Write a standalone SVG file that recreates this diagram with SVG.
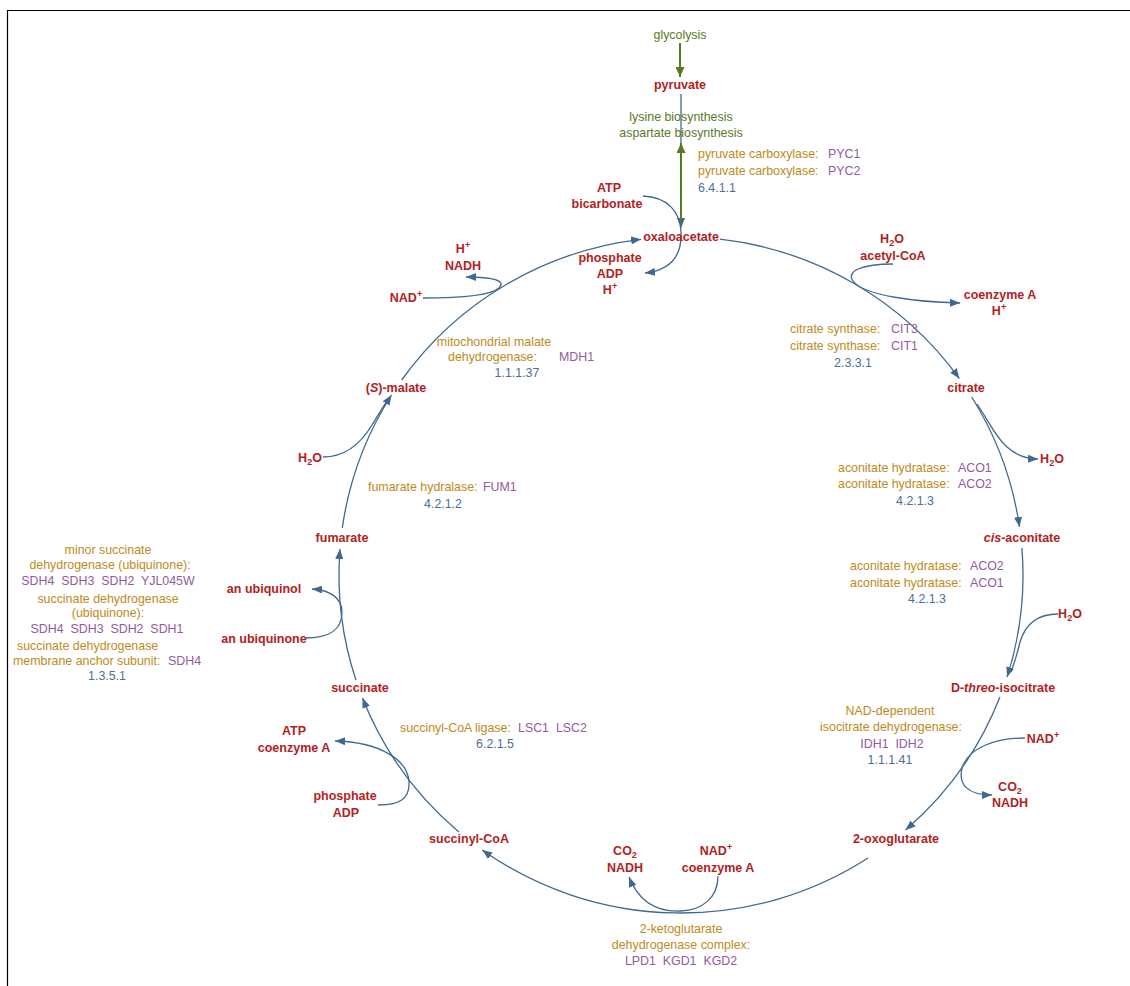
<svg xmlns="http://www.w3.org/2000/svg" width="1130" height="986" viewBox="0 0 1130 986">
<defs>
<style>
text{font-family:"Liberation Sans",Arial,sans-serif;font-size:12.4px;white-space:pre}
.n{font-weight:bold;font-size:12.5px;fill:#b22222;text-anchor:middle}
.e{fill:#bf8a20}
.g{fill:#935aa0}
.ec{fill:#4d6f93}
.m{text-anchor:middle}
.pw{fill:#587a1f;text-anchor:middle}
.c{fill:none;stroke:#40698f;stroke-width:1.3}
.cg{fill:none;stroke:#587a1f;stroke-width:2}
.sup{font-size:9px}
.sub{font-size:9px}
</style>
<marker id="ab" markerUnits="userSpaceOnUse" markerWidth="11" markerHeight="8" refX="10" refY="4" orient="auto"><path d="M0,0 L10,4 L0,8 z" fill="#40698f"/></marker>
<marker id="ag" markerUnits="userSpaceOnUse" markerWidth="11" markerHeight="9" refX="10" refY="4.5" orient="auto"><path d="M0,0 L10,4.5 L0,9 z" fill="#587a1f"/></marker>
</defs>
<rect width="1130" height="986" fill="#fff"/>
<path d="M7.5,986 V10.5 H1130" fill="none" stroke="#000" stroke-width="1.2"/>

<g id="connectors">
<path class="c" marker-end="url(#ab)" d="M720,239.2 A342,338 0 0 1 959.3,378.5"/>
<path class="c" marker-end="url(#ab)" d="M971.7,397 A342,338 0 0 1 1019.5,527"/>
<path class="c" marker-end="url(#ab)" d="M1021.9,548 A342,338 0 0 1 1007.1,677"/>
<path class="c" marker-end="url(#ab)" d="M999.9,697 A342,338 0 0 1 905.5,830"/>
<path class="c" marker-end="url(#ab)" d="M868,858 A342,338 0 0 1 482.2,850"/>
<path class="c" marker-end="url(#ab)" d="M458.9,832 A342,338 0 0 1 362.5,698"/>
<path class="c" marker-end="url(#ab)" d="M355.9,680 A342,338 0 0 1 340,549"/>
<path class="c" marker-end="url(#ab)" d="M342.3,528 A342,338 0 0 1 391.5,395"/>
<path class="c" marker-end="url(#ab)" d="M401.7,380 A342,338 0 0 1 641.1,239.3"/>
<path class="c" marker-end="url(#ab)" d="M681,94 V228"/>
<path class="cg" marker-end="url(#ag)" d="M681,222 V143"/>
<path class="cg" marker-end="url(#ag)" d="M680,43 V77"/>
<path class="c" marker-end="url(#ab)" d="M643,196 C668,197 680,212 681,232 C682,255 672,270 645,273"/>
<path class="c" marker-end="url(#ab)" d="M423,298 C452,298 490,296 499,288 C506,281 495,277 466,277"/>
<path class="c" marker-end="url(#ab)" d="M893,264 C862,264 846,271 853,281 C864,296 918,302 960,303"/>
<path class="c" marker-end="url(#ab)" d="M977,404 C995,430 1003,458 1038,459"/>
<path class="c" d="M1058,614 C1040,614 1026,622 1020,642 C1017,655 1014,664 1011,672"/>
<path class="c" marker-end="url(#ab)" d="M1025,738 C995,738 968,748 962,768 C958,785 968,795 992,795"/>
<path class="c" marker-end="url(#ab)" d="M718,876 C718,898 702,910 681,911 C660,912 640,905 629,877"/>
<path class="c" marker-end="url(#ab)" d="M378,805 C398,805 410,800 409,782 C408,760 380,742 335,741"/>
<path class="c" marker-end="url(#ab)" d="M305,638 C330,638 342,630 342,612 C342,598 330,590 312,589"/>
<path class="c" d="M323,457 C345,457 360,445 372,425 C380,412 386,402 390,397"/>
</g>

<g id="glycolysis"><text class="pw" x="680" y="39">glycolysis</text></g>
<g id="pyruvate"><text class="n" x="680" y="89">pyruvate</text></g>
<g id="lysine-aspartate"><text class="pw" x="681" y="121">lysine biosynthesis</text><text class="pw" x="681" y="137">aspartate biosynthesis</text></g>
<g id="pyc"><text class="e" x="698" y="158">pyruvate carboxylase:</text><text class="g" x="828" y="158">PYC1</text><text class="e" x="698" y="175">pyruvate carboxylase:</text><text class="g" x="828" y="175">PYC2</text><text class="ec" x="698" y="192">6.4.1.1</text></g>
<g id="atp-bicarbonate"><text class="n" x="609" y="192">ATP</text><text class="n" x="607" y="208">bicarbonate</text></g>
<g id="oxaloacetate"><text class="n" x="681" y="241">oxaloacetate</text></g>
<g id="phosphate-adp-h"><text class="n" x="610" y="262">phosphate</text><text class="n" x="610" y="278">ADP</text><text class="n" x="610" y="294">H<tspan class="sup" dy="-5">+</tspan></text></g>
<g id="h-nadh"><text class="n" x="463" y="253">H<tspan class="sup" dy="-5">+</tspan></text><text class="n" x="463" y="270">NADH</text></g>
<g id="nad-malate"><text class="n" x="406" y="302">NAD<tspan class="sup" dy="-5">+</tspan></text></g>
<g id="h2o-acetylcoa"><text class="n" x="892" y="243">H<tspan class="sub" dy="3">2</tspan><tspan dy="-3">O</tspan></text><text class="n" x="893" y="260">acetyl-CoA</text></g>
<g id="coa-h"><text class="n" x="1000" y="299">coenzyme A</text><text class="n" x="999" y="315">H<tspan class="sup" dy="-5">+</tspan></text></g>
<g id="cit"><text class="e" x="790" y="333">citrate synthase:</text><text class="g" x="891" y="333">CIT3</text><text class="e" x="790" y="350">citrate synthase:</text><text class="g" x="891" y="350">CIT1</text><text class="ec m" x="853" y="367">2.3.3.1</text></g>
<g id="citrate"><text class="n" x="966" y="392">citrate</text></g>
<g id="h2o-1"><text class="n" x="1052" y="463">H<tspan class="sub" dy="3">2</tspan><tspan dy="-3">O</tspan></text></g>
<g id="aco-1"><text class="e" x="838" y="472">aconitate hydratase:</text><text class="g" x="958" y="472">ACO1</text><text class="e" x="838" y="488">aconitate hydratase:</text><text class="g" x="958" y="488">ACO2</text><text class="ec m" x="915" y="505">4.2.1.3</text></g>
<g id="cis-aconitate"><text class="n" x="1022" y="542"><tspan font-style="italic">cis</tspan>-aconitate</text></g>
<g id="aco-2"><text class="e" x="850" y="570">aconitate hydratase:</text><text class="g" x="970" y="570">ACO2</text><text class="e" x="850" y="587">aconitate hydratase:</text><text class="g" x="970" y="587">ACO1</text><text class="ec m" x="927" y="603">4.2.1.3</text></g>
<g id="h2o-2"><text class="n" x="1070" y="618">H<tspan class="sub" dy="3">2</tspan><tspan dy="-3">O</tspan></text></g>
<g id="isocitrate"><text class="n" x="1003" y="692">D-<tspan font-style="italic">threo</tspan>-isocitrate</text></g>
<g id="idh"><text class="e m" x="890" y="715">NAD-dependent</text><text class="e m" x="891" y="731">isocitrate dehydrogenase:</text><text class="g m" x="892" y="748">IDH1  IDH2</text><text class="ec m" x="890" y="764">1.1.1.41</text></g>
<g id="nad-idh"><text class="n" x="1043" y="743">NAD<tspan class="sup" dy="-5">+</tspan></text></g>
<g id="co2-nadh-idh"><text class="n" x="1010" y="791">CO<tspan class="sub" dy="3">2</tspan></text><text class="n" x="1010" y="807">NADH</text></g>
<g id="oxoglutarate"><text class="n" x="896" y="843">2-oxoglutarate</text></g>
<g id="co2-nadh-kgd"><text class="n" x="625" y="855">CO<tspan class="sub" dy="3">2</tspan></text><text class="n" x="625" y="872">NADH</text></g>
<g id="nad-coa-kgd"><text class="n" x="716" y="855">NAD<tspan class="sup" dy="-5">+</tspan></text><text class="n" x="718" y="872">coenzyme A</text></g>
<g id="kgd"><text class="e m" x="681" y="933">2-ketoglutarate</text><text class="e m" x="681" y="949">dehydrogenase complex:</text><text class="g m" x="681" y="965">LPD1  KGD1  KGD2</text></g>
<g id="succinyl-coa"><text class="n" x="469" y="843">succinyl-CoA</text></g>
<g id="phosphate-adp"><text class="n" x="345" y="800">phosphate</text><text class="n" x="346" y="817">ADP</text></g>
<g id="atp-coa"><text class="n" x="294" y="735">ATP</text><text class="n" x="294" y="752">coenzyme A</text></g>
<g id="lsc"><text class="e" x="400" y="732">succinyl-CoA ligase:</text><text class="g" x="518" y="732">LSC1  LSC2</text><text class="ec m" x="495" y="748">6.2.1.5</text></g>
<g id="succinate"><text class="n" x="360" y="692">succinate</text></g>
<g id="ubiquinol"><text class="n" x="264" y="593">an ubiquinol</text></g>
<g id="ubiquinone"><text class="n" x="264" y="643">an ubiquinone</text></g>
<g id="sdh"><text class="e m" x="108" y="554">minor succinate</text><text class="e m" x="110" y="569">dehydrogenase (ubiquinone):</text><text class="g m" x="108" y="585">SDH4  SDH3  SDH2  YJL045W</text><text class="e m" x="108" y="603">succinate dehydrogenase</text><text class="e m" x="108" y="617">(ubiquinone):</text><text class="g m" x="107" y="633">SDH4  SDH3  SDH2  SDH1</text><text class="e" x="17" y="650">succinate dehydrogenase</text><text class="e" x="13" y="665">membrane anchor subunit:</text><text class="g" x="168" y="665">SDH4</text><text class="ec m" x="107" y="680">1.3.5.1</text></g>
<g id="fumarate"><text class="n" x="342" y="542">fumarate</text></g>
<g id="fum"><text class="e" x="368" y="491">fumarate hydralase:</text><text class="g" x="483" y="491">FUM1</text><text class="ec m" x="443" y="508">4.2.1.2</text></g>
<g id="h2o-3"><text class="n" x="310" y="462">H<tspan class="sub" dy="3">2</tspan><tspan dy="-3">O</tspan></text></g>
<g id="malate"><text class="n" x="396" y="392">(<tspan font-style="italic">S</tspan>)-malate</text></g>
<g id="mdh"><text class="e m" x="494" y="346">mitochondrial malate</text><text class="e" x="448" y="361">dehydrogenase:</text><text class="g" x="559" y="361">MDH1</text><text class="ec m" x="517" y="377">1.1.1.37</text></g>
</svg>
